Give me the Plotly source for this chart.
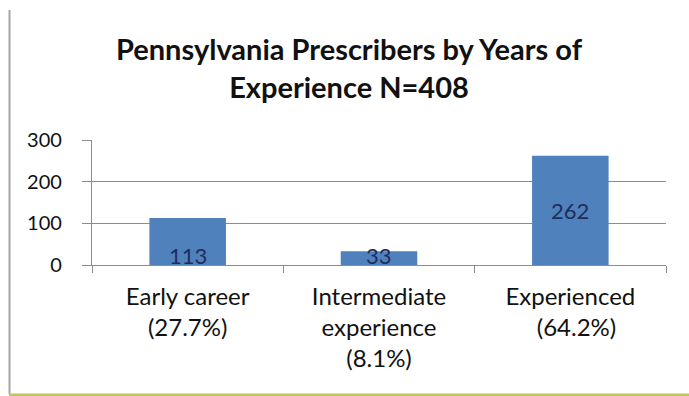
import plotly.graph_objects as go

categories = ["Early career", "Intermediate experience", "Experienced"]
tick_labels = ["Early career<br>(27.7%)", "Intermediate<br>experience<br>(8.1%)", "Experienced<br>  (64.2%)"]
values = [113, 33, 262]
y_ticks = [0, 100, 200, 300]

W, H = 689, 396
L, R, T, B = 92, 23, 140, 131
pw, ph = W - L - R, H - T - B

def px_x(px):
    return (px - L) / pw

def px_y(py):
    return (H - B - py) / ph

bar_color = "#4F81BD"
label_color = "#1F2D5A"
font_family = "Lato, 'Open Sans', sans-serif"

fig = go.Figure()
fig.add_trace(go.Bar(
    x=categories, y=values, marker=dict(color=bar_color, line=dict(width=0)),
    width=0.4, hoverinfo="skip", showlegend=False,
))

# data labels: small bars at base, tall bar centered
annotations = []
for c, v in zip(categories, values):
    tall = v > 200
    annotations.append(dict(
        x=c, y=v / 2 if tall else 0, xref="x", yref="y",
        text=str(v), showarrow=False,
        yanchor="middle" if tall else "bottom", yshift=0 if tall else -6,
        font=dict(size=22, color=label_color, family=font_family),
    ))

fig.update_layout(
    width=W, height=H,
    margin=dict(l=L, r=R, t=T, b=B, autoexpand=False),
    paper_bgcolor="white", plot_bgcolor="white",
    title=dict(
        text="<b>Pennsylvania Prescribers by Years of<br>Experience N=408</b>",
        x=349 / W, xanchor="center", xref="container",
        y=1 - 60 / H, yanchor="top", yref="container",
        font=dict(size=29, color="#111111", family=font_family),
    ),
    font=dict(family=font_family, color="#111111"),
    annotations=annotations,
    xaxis=dict(
        tickmode="array", tickvals=categories, ticktext=tick_labels,
        tickson="boundaries", ticks="outside", ticklen=7, tickcolor="#8C8C8C",
        showline=True, linecolor="#8C8C8C", linewidth=1.2,
        showgrid=False, tickfont=dict(size=24, color="#111111"),
        ticklabelstandoff=10, fixedrange=True,
    ),
    yaxis=dict(
        range=[0, 300], tickvals=y_ticks, ticks="outside", ticklen=9,
        tickcolor="#8C8C8C", showline=True, linecolor="#8C8C8C", linewidth=1.2,
        showgrid=True, gridcolor="#8C8C8C", gridwidth=1.2, zeroline=False,
        tickfont=dict(size=20, color="#111111"), ticklabelstandoff=16,
        fixedrange=True,
    ),
    shapes=[
        dict(type="line", xref="paper", yref="paper",
             x0=px_x(9.5), x1=px_x(9.5), y0=px_y(10), y1=px_y(394),
             line=dict(color="#A6A6A6", width=2)),
        dict(type="line", xref="paper", yref="paper",
             x0=px_x(9), x1=px_x(689), y0=px_y(395), y1=px_y(395),
             line=dict(color="#C2C65A", width=3)),
    ],
)

fig.write_html("out.html", config={"displayModeBar": False},
               post_script="document.body.style.margin='0';document.body.style.overflow='hidden';")
